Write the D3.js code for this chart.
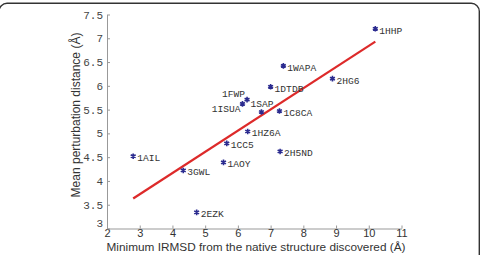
<!DOCTYPE html>
<html><head><meta charset="utf-8">
<script src="https://cdn.jsdelivr.net/npm/d3@7"></script>
<style>body{margin:0;background:#fff}svg{display:block}</style>
</head><body>
<script>
const names = ["1HHP","1WAPA","2HG6","1C8CA","1DTDB","1FWP","1ISUA","1SAP","1HZ6A","1CC5","2H5ND","1AOY","1AIL","3GWL","2EZK"];
const xVals = [10.2,7.39,8.89,7.27,7.0,6.28,6.14,6.72,6.30,5.66,7.29,5.56,2.80,4.33,4.74];
const yVals = [7.2,6.42,6.15,5.47,5.98,5.71,5.62,5.45,5.04,4.79,4.62,4.39,4.52,4.22,3.34];
const fitX = [2.8,10.2];
const fitY = [3.63,6.93];
const xTicks = [2,3,4,5,6,7,8,9,10,11];
const yTicks = [3,3.5,4,4.5,5,5.5,6,6.5,7,7.5];
// label placement: [dx, dy, anchor]
const labelPos = {"1FWP":[-2,-3,"end"],"1ISUA":[-2,8,"end"],"1SAP":[-11,-4.5,"start"]};

const W=481,H=255;
const svg=d3.select("body").append("svg").attr("width",W).attr("height",H);
svg.append("rect").attr("x",-1).attr("y",3.3).attr("width",480.3).attr("height",320).attr("rx",8)
  .attr("fill","none").attr("stroke","#333").attr("stroke-width",1.4);

const x=d3.scaleLinear().domain([2,11]).range([107,401.5]);
const y=d3.scaleLinear().domain([3,7.5]).range([228.5,14.5]);

// axes
const ax=svg.append("g").attr("transform",`translate(0,${y(3)})`)
  .call(d3.axisBottom(x).tickValues(xTicks).tickSizeInner(-3).tickSizeOuter(0).tickPadding(0));
ax.select(".domain").attr("stroke","#999");
ax.selectAll(".tick line").attr("stroke","#999");
ax.selectAll("text").attr("y",1).attr("font-family","Liberation Sans, Arial, sans-serif").attr("font-size",11).attr("fill","#333");

const ay=svg.append("g").attr("transform",`translate(${x(2)},0)`)
  .call(d3.axisLeft(y).tickValues(yTicks).tickSizeInner(-3).tickSizeOuter(0).tickPadding(4)
    .tickFormat(d=>String(d)));
ay.select(".domain").attr("stroke","#999");
ay.selectAll(".tick line").attr("stroke","#999");
ay.selectAll("text").attr("font-family","Liberation Mono, Courier New, monospace").attr("font-size",11).attr("fill","#444");
ay.selectAll(".tick").filter(d=>d===3).select("text").attr("dy","-0.2em");

// titles
svg.append("text").attr("x",256).attr("y",251).attr("text-anchor","middle")
  .attr("font-family","Liberation Sans, Arial, sans-serif").attr("font-size",11.8).attr("fill","#333")
  .text("Minimum IRMSD from the native structure discovered (Å)");
svg.append("text").attr("transform","translate(80,115) rotate(-90)").attr("text-anchor","middle")
  .attr("font-family","Liberation Sans, Arial, sans-serif").attr("font-size",12).attr("fill","#333")
  .text("Mean perturbation distance (Å)");

// fit line
svg.append("line").attr("x1",x(fitX[0])).attr("y1",y(fitY[0])).attr("x2",x(fitX[1])).attr("y2",y(fitY[1]))
  .attr("stroke","#dd2a2a").attr("stroke-width",2.2);

// points
const pts=svg.append("g");
const sym=d3.symbol().type(d3.symbolAsterisk).size(22);
names.forEach((n,i)=>{
  const px=x(xVals[i]), py=y(yVals[i]);
  pts.append("path").attr("d",sym()).attr("transform",`translate(${px},${py})`)
    .attr("fill","none").attr("stroke","#2b2b8f").attr("stroke-width",1.6);
  const lp=labelPos[n]||[4,5,"start"];
  pts.append("text").attr("x",px+lp[0]).attr("y",py+lp[1]).attr("text-anchor",lp[2])
    .attr("font-family","Liberation Mono, Courier New, monospace").attr("font-size",9.6)
    .attr("fill","#333").text(n);
});
</script>
</body></html>
